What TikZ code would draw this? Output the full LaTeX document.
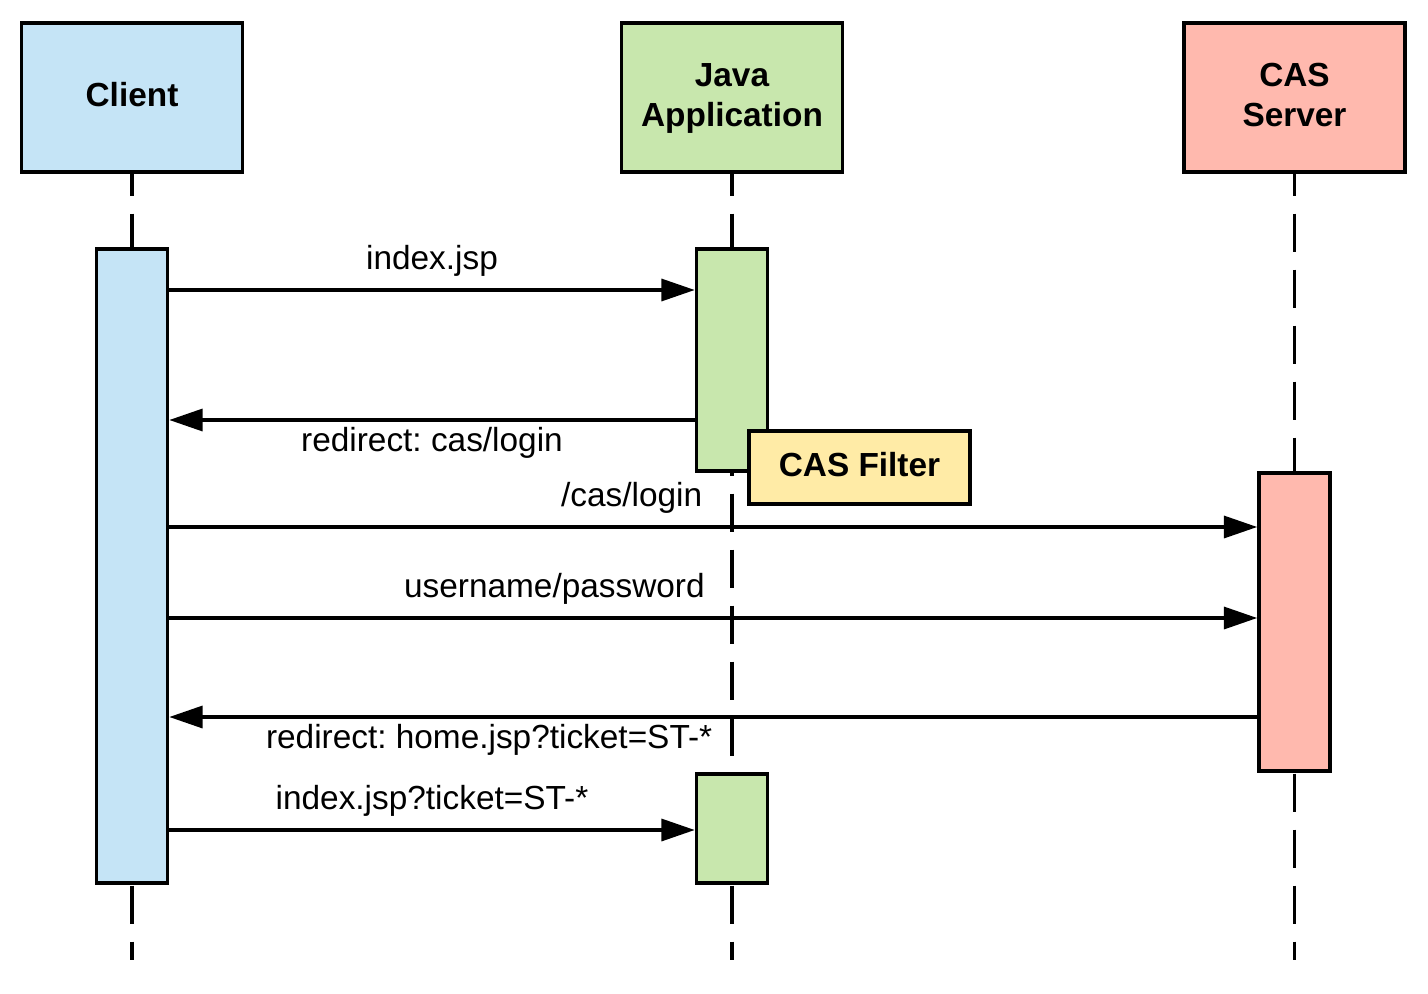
\documentclass[tikz,border=0pt]{standalone}
\usepackage{fontspec}
\setmainfont{Liberation Sans}
\frenchspacing
\usetikzlibrary{positioning, arrows.meta}
\definecolor{clientblue}{HTML}{C5E4F6}
\definecolor{javagreen}{HTML}{C8E7AD}
\definecolor{caspink}{HTML}{FFB9AE}
\definecolor{noteyellow}{HTML}{FFEBA6}
\tikzset{x=0.02cm, y=-0.02cm, % One unit is one pixel of the sketch
every node/.style={font=\fontsize{19}{23}\selectfont},
actor/.style={ % Boxes at the top of each lifeline
draw, line width=2pt,
minimum width=4.42cm, minimum height=2.98cm, text depth=0.3em,
align=center, font=\fontsize{19}{23}\selectfont\bfseries},
bar/.style={ % Activation bars
draw, line width=2pt, minimum width=1.42cm},
lifeline/.style={line width=1.9pt, % Dashed lines below the actors
dash pattern=on 0.76cm off 0.36cm, dash phase=0.32cm},
filterbox/.style={draw, line width=2pt, fill=noteyellow,
minimum width=4.42cm, minimum height=1.46cm, text depth=0.3em,
font=\fontsize{19}{23}\selectfont\bfseries},
up/.style={yshift=0.12cm}, % Lifts the labels above the arrows a little
every edge/.style={ % Sets the properties for each message
draw, -{Triangle[length=19pt, width=12.5pt]},
auto, line width=2pt}}

\begin{document}
\begin{tikzpicture}
    \useasboundingbox (0,0) rectangle (1428,994);
    \node[actor, fill=clientblue] (client) at (132,97.5) {Client};
    \node[actor, fill=javagreen] (java) at (732,97.5) {Java\\Application};
    \node[actor, fill=caspink] (cas) at (1294.5,97.5) {CAS\\Server};
    \draw[lifeline] (client.south) -- (client.south |- 0,960);
    \draw[lifeline] (java.south) -- (java.south |- 0,960);
    \draw[lifeline] (cas.south) -- (cas.south |- 0,960);
    \node[bar, fill=clientblue, minimum height=12.68cm] (clientbar) at (132,566) {};
    \node[bar, fill=javagreen, minimum height=4.44cm] (javabar1) at (732,360) {};
    \node[bar, fill=javagreen, minimum height=2.18cm] (javabar2) at (732,828.5) {};
    \node[bar, fill=caspink, minimum height=5.96cm] (casbar) at (1294.5,622) {};
    \draw (clientbar.east |- 0,290) edge node[up] {index.jsp} (javabar1.west |- 0,290);
    \draw (javabar1.west |- 0,420) edge node {redirect: cas/login} (clientbar.east |- 0,420);
    \draw (clientbar.east |- 0,527) edge node[up, pos=0.425] {/cas/login} (casbar.west |- 0,527);
    \draw (clientbar.east |- 0,618) edge node[up, pos=0.354] {username/password} (casbar.west |- 0,618);
    \draw (casbar.west |- 0,717) edge node[pos=0.706] {redirect: home.jsp?ticket=ST-*} (clientbar.east |- 0,717);
    \draw (clientbar.east |- 0,830) edge node[up] {index.jsp?ticket=ST-*} (javabar2.west |- 0,830);
    \node[filterbox] (filter) at (859.5,467.5) {CAS Filter};
\end{tikzpicture}
\end{document}
